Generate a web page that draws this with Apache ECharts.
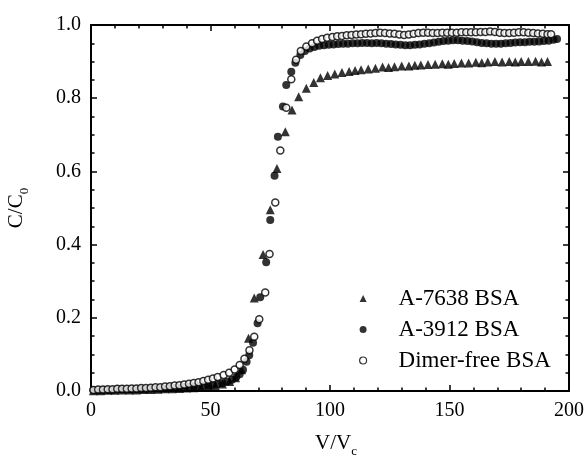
<!DOCTYPE html>
<html>
<head>
<meta charset="utf-8">
<script src="https://cdn.jsdelivr.net/npm/echarts@6/dist/echarts.min.js"></script>
<style>
  html, body { margin: 0; padding: 0; background: #fff; }
  #chart { width: 584px; height: 462px; }
</style>
</head>
<body>
<div id="chart"></div>
<script>
// breakthrough curves, [V/Vc, C/C0]
const a7638 = [
  [1, 0.001], [4, 0.001], [7, 0.002], [10, 0.002], [13, 0.003], [16, 0.003], [19, 0.003],
  [22, 0.004], [25, 0.004], [28, 0.005], [31, 0.006], [34, 0.006], [37, 0.007], [40, 0.008],
  [43, 0.009], [46, 0.010], [49, 0.012], [52, 0.015], [55, 0.019], [58, 0.026], [60.5, 0.036],
  [63, 0.058], [65.9, 0.144], [68.3, 0.254], [72, 0.373], [75, 0.495], [77.8, 0.608],
  [81.3, 0.708], [84.1, 0.768], [86.9, 0.804], [90.1, 0.827], [93.2, 0.843], [96, 0.856],
  [99, 0.862], [102, 0.866], [105, 0.870], [108, 0.873], [110.5, 0.876], [113, 0.878],
  [116, 0.880], [119, 0.882], [122, 0.885], [124.5, 0.884], [127, 0.886], [130, 0.888],
  [133, 0.888], [135.5, 0.890], [138, 0.891], [141, 0.892], [144, 0.893], [147, 0.894],
  [149.5, 0.893], [152, 0.895], [155, 0.896], [158, 0.896], [161, 0.898], [163.5, 0.897],
  [166, 0.899], [169, 0.900], [172, 0.899], [175, 0.900], [177.5, 0.899], [180, 0.900],
  [183, 0.900], [186, 0.901], [188.5, 0.899], [191, 0.900]
];
const a3912 = [
  [1, 0.002], [3, 0.002], [5, 0.003], [7, 0.003], [9, 0.003], [11, 0.004], [13, 0.004],
  [15, 0.004], [17, 0.004], [19, 0.005], [21, 0.005], [23, 0.005], [25, 0.006], [27, 0.006],
  [29, 0.006], [31, 0.007], [33, 0.008], [35, 0.008], [37, 0.009], [39, 0.010], [41, 0.011],
  [43, 0.012], [45, 0.013], [47, 0.014], [49, 0.015], [51, 0.017], [53, 0.019], [55, 0.022],
  [57, 0.026], [59, 0.031], [60.8, 0.038], [62.2, 0.046], [63.6, 0.058], [65.1, 0.080],
  [66.2, 0.098], [67.8, 0.132], [69.7, 0.185], [70.8, 0.256], [73.3, 0.352], [75, 0.467],
  [76.8, 0.588], [78.2, 0.695], [80.3, 0.777], [81.7, 0.836], [83.8, 0.872], [85.5, 0.897],
  [87.6, 0.918], [89.5, 0.929], [91.5, 0.936], [93.5, 0.940], [95.5, 0.943], [97.5, 0.945],
  [99.5, 0.946], [101.5, 0.947], [103.5, 0.948], [105.5, 0.949], [107.5, 0.949], [109.5, 0.950],
  [111.5, 0.950], [113.5, 0.951], [115.5, 0.951], [117.5, 0.950], [119.5, 0.951], [121.5, 0.950],
  [123.5, 0.949], [125.5, 0.948], [127.5, 0.947], [129.5, 0.946], [131.5, 0.945], [133.5, 0.945],
  [135.5, 0.946], [137.5, 0.947], [139.5, 0.949], [141.5, 0.950], [143.5, 0.952], [145.5, 0.954],
  [147.5, 0.956], [149.5, 0.957], [151.5, 0.958], [153.5, 0.958], [155.5, 0.957], [157.5, 0.956],
  [159.5, 0.955], [161.5, 0.953], [163.5, 0.951], [165.5, 0.950], [167.5, 0.949], [169.5, 0.949],
  [171.5, 0.949], [173.5, 0.950], [175.5, 0.951], [177.5, 0.952], [179.5, 0.953], [181.5, 0.953],
  [183.5, 0.954], [185.5, 0.954], [187.5, 0.955], [189.5, 0.956], [191.5, 0.957], [193.5, 0.960],
  [195, 0.962]
];
const dimerFree = [
  [1, 0.003], [3, 0.004], [5, 0.004], [7, 0.005], [9, 0.005], [11, 0.006], [13, 0.006],
  [15, 0.006], [17, 0.007], [19, 0.007], [21, 0.008], [23, 0.008], [25, 0.009], [27, 0.010],
  [29, 0.010], [31, 0.012], [33, 0.013], [35, 0.015], [37, 0.016], [39, 0.018], [41, 0.020],
  [43, 0.022], [45, 0.024], [47, 0.027], [49, 0.031], [51, 0.034], [53, 0.038], [55.5, 0.044],
  [57.8, 0.050], [60.1, 0.059], [62.2, 0.071], [64.2, 0.088], [66.3, 0.111], [68.3, 0.148],
  [70.4, 0.196], [72.9, 0.269], [74.7, 0.374], [77.1, 0.515], [79.2, 0.657], [81.7, 0.774],
  [83.8, 0.852], [85.8, 0.905], [87.8, 0.929], [90.1, 0.941], [92.5, 0.950], [94.6, 0.957],
  [96.7, 0.962], [98.8, 0.965], [101, 0.967], [103, 0.969], [105, 0.970], [107, 0.972],
  [109, 0.973], [111, 0.974], [113, 0.975], [115, 0.976], [117, 0.977], [119, 0.978],
  [121, 0.979], [123, 0.978], [125, 0.977], [127, 0.976], [129, 0.974], [131, 0.973],
  [133, 0.974], [135, 0.976], [137, 0.978], [139, 0.979], [141, 0.979], [143, 0.978],
  [145, 0.978], [147, 0.979], [149, 0.979], [151, 0.979], [153, 0.979], [155, 0.980],
  [157, 0.980], [159, 0.980], [161, 0.980], [163, 0.981], [165, 0.981], [167, 0.982],
  [169, 0.981], [171, 0.979], [173, 0.978], [175, 0.978], [177, 0.979], [179, 0.980],
  [181, 0.980], [183, 0.979], [185, 0.978], [187, 0.977], [189, 0.976], [191, 0.975],
  [192.5, 0.975]
];
const seriesNames = ['A-7638 BSA', 'A-3912 BSA', 'Dimer-free BSA'];
const xTicks = [0, 50, 100, 150, 200];
const yTicks = [0.0, 0.2, 0.4, 0.6, 0.8, 1.0];

const FONT = '"Liberation Serif", "DejaVu Serif", serif';
const chart = echarts.init(document.getElementById('chart'));

const axisLine = { show: true, onZero: false, lineStyle: { color: '#000', width: 2 } };
const tick = { show: true, inside: true, length: 6, lineStyle: { color: '#000', width: 1.5 } };
const minorTick = { show: true, splitNumber: 5, length: 3.5, lineStyle: { color: '#000', width: 1.5 } };
const yMinor = { show: true, splitNumber: 4, length: 3.5, lineStyle: { color: '#000', width: 1.5 } };

const baseX = {
  type: 'value', min: xTicks[0], max: xTicks[xTicks.length - 1], interval: 50,
  axisLine: axisLine, axisTick: tick, minorTick: minorTick, splitLine: { show: false }
};
const baseY = {
  type: 'value', min: yTicks[0], max: yTicks[yTicks.length - 1], interval: 0.2,
  axisLine: axisLine, axisTick: tick, minorTick: yMinor, splitLine: { show: false }
};

// subscript style for axis names
const subRich = { sub: { fontFamily: FONT, fontSize: 13, color: '#000', verticalAlign: 'bottom', padding: [16, 0, 0, 0] } };

const option = {
  animation: false,
  backgroundColor: '#fff',
  textStyle: { fontFamily: FONT },
  grid: { left: 91, right: 15, top: 25, bottom: 71, containLabel: false, outerBoundsMode: 'none' },
  legend: {
    orient: 'vertical',
    left: 354,
    top: 282,
    itemWidth: 7,
    itemHeight: 7,
    itemGap: 8,
    textStyle: { fontFamily: FONT, fontSize: 23, lineHeight: 22, color: '#000', padding: [0, 0, 0, 27] },
    data: [
      { name: seriesNames[0], icon: 'triangle', itemStyle: { color: '#000' } },
      { name: seriesNames[1], icon: 'circle', itemStyle: { color: '#000' } },
      { name: seriesNames[2], icon: 'circle', itemStyle: { color: '#fff', borderColor: '#000', borderWidth: 1.2 } }
    ]
  },
  xAxis: [
    Object.assign({}, baseX, {
      position: 'bottom',
      name: 'V/V{sub|c}',
      nameLocation: 'middle',
      nameGap: 38,
      nameTextStyle: { fontFamily: FONT, fontSize: 21, color: '#000', padding: [0, 0, 0, 12], rich: subRich },
      axisLabel: { fontFamily: FONT, fontSize: 20, color: '#000', margin: 10 }
    }),
    Object.assign({}, baseX, { position: 'top', axisLabel: { show: false } })
  ],
  yAxis: [
    Object.assign({}, baseY, {
      position: 'left',
      name: 'C/C{sub|0}',
      nameLocation: 'middle',
      nameGap: 60,
      nameTextStyle: { fontFamily: FONT, fontSize: 21, color: '#000', rich: subRich },
      axisLabel: {
        fontFamily: FONT, fontSize: 20, color: '#000', margin: 10,
        formatter: function (v) { return v.toFixed(1); }
      }
    }),
    Object.assign({}, baseY, { position: 'right', axisLabel: { show: false } })
  ],
  series: [
    {
      name: seriesNames[0], type: 'scatter', symbol: 'triangle', symbolSize: 9,
      itemStyle: { color: '#000' }, data: a7638
    },
    {
      name: seriesNames[1], type: 'scatter', symbol: 'circle', symbolSize: 8,
      itemStyle: { color: '#000' }, data: a3912
    },
    {
      name: seriesNames[2], type: 'scatter', symbol: 'circle', symbolSize: 7,
      itemStyle: { color: '#fff', borderColor: '#000', borderWidth: 1.5 }, data: dimerFree
    }
  ]
};

chart.setOption(option);
</script>
</body>
</html>
